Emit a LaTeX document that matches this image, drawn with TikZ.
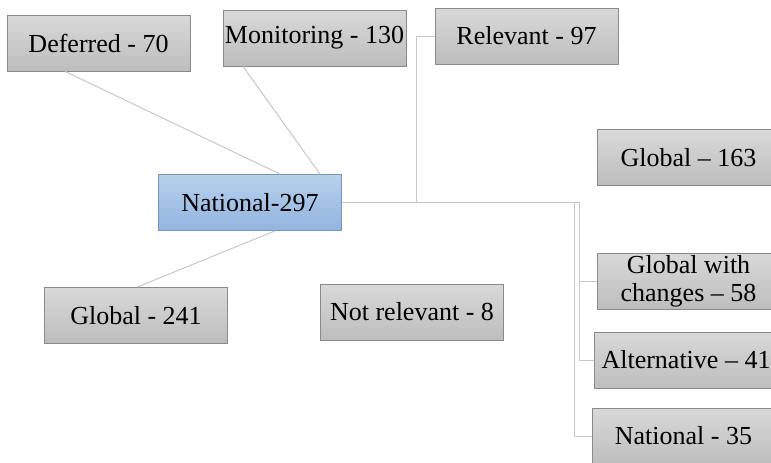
\documentclass[tikz,border=0pt]{standalone}
\usepackage{fontspec}
\setmainfont{Liberation Serif}
\newfontfamily\labelfont{Liberation Serif}
\usepackage{tikz}
\definecolor{boxtop}{HTML}{D9D9D9}
\definecolor{boxbot}{HTML}{BDBDBD}
\definecolor{boxline}{HTML}{8A8A8A}
\definecolor{roottop}{HTML}{B8D0EC}
\definecolor{rootbot}{HTML}{92B4E0}
\definecolor{rootline}{HTML}{7894BE}
\definecolor{linkgray}{HTML}{C8C8C8}
\tikzstyle{catbox} = [rectangle, minimum width=183pt, minimum height=56pt, inner sep=0pt, text centered, draw=boxline, line width=0.8pt, top color=boxtop, bottom color=boxbot, font=\labelfont\fontsize{26}{28}\selectfont, align=center]
\tikzstyle{rootbox} = [catbox, draw=rootline, top color=roottop, bottom color=rootbot]
\tikzstyle{link} = [draw=linkgray, line width=1pt]

\begin{document}
\begin{tikzpicture}[x=1pt, y=-1pt]
      \useasboundingbox (0,0) rectangle (771,463);
      \node[rootbox] (nat) at (250,202.5) {National-297};
      \node[catbox] (def) at (98.5,43) {Deferred - 70};
      \node[catbox] (mon) at (314.5,38) {Monitoring - 130};
      \node[catbox] (rel) at (526.5,36) {Relevant - 97};
      \node[catbox] (glob) at (688.5,157.5) {Global – 163};
      \node[catbox] (globnat) at (136,315.5) {Global - 241};
      \node[catbox] (notrel) at (412,312) {Not relevant - 8};
      \node[catbox] (globchg) at (688.5,281) {Global with\\changes – 58};
      \node[catbox] (alt) at (686,360) {Alternative – 41};
      \node[catbox] (natl) at (683.5,436) {National - 35};

      \draw[link]([xshift=-33.5pt]def.south) -- ([xshift=30pt]nat.north);
      \draw[link]([xshift=-71.5pt]mon.south) -- ([xshift=70pt]nat.north);
      \draw[link]([xshift=25pt]nat.south) -- ([xshift=1pt]globnat.north);
      \draw[link](nat.east) -- ++(75,0) |- (rel.west);
      \draw[link](nat.east) -- ++(238,0) |- (globchg.west);
      \draw[link]([xshift=238pt]nat.east) |- (alt.west);
      \draw[link]([xshift=233pt]nat.east) |- (natl.west);
    \end{tikzpicture}
\end{document}
